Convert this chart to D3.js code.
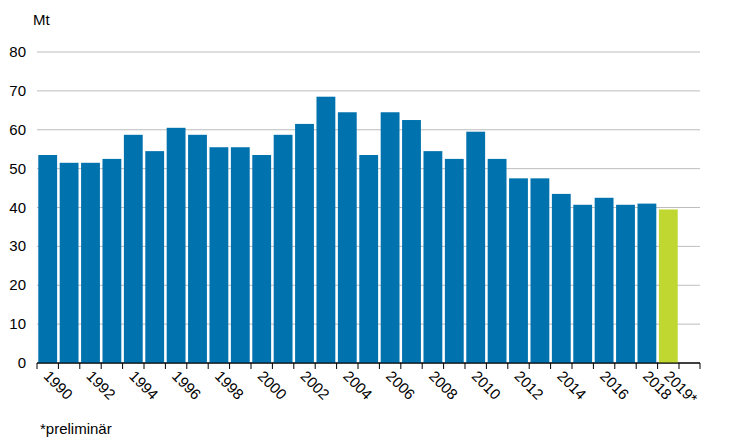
<!DOCTYPE html>
<html><head><meta charset="utf-8">
<script src="https://d3js.org/d3.v7.min.js"></script>
<style>body{margin:0;background:#fff}text{font-family:"Liberation Sans",Arial,sans-serif;fill:#000}</style>
</head><body><svg id="c" width="737" height="446"></svg>
<script>
const years=["1990","1991","1992","1993","1994","1995","1996","1997","1998","1999","2000","2001","2002","2003","2004","2005","2006","2007","2008","2009","2010","2011","2012","2013","2014","2015","2016","2017","2018","2019*"];
const values=[53.5,51.5,51.5,52.5,58.7,54.5,60.5,58.7,55.5,55.5,53.5,58.7,61.5,68.5,64.5,53.5,64.5,62.5,54.5,52.5,59.5,52.5,47.5,47.5,43.5,40.7,42.5,40.7,41,39.5];
const yTicks=[0,10,20,30,40,50,60,70,80];
const svg=d3.select("#c");
const L=37,R=700,T=52,B=363;
const x=d3.scaleBand().domain(years).range([L,L+30*21.4]).paddingInner(0.12).paddingOuter(0.06);
const y=d3.scaleLinear().domain([0,80]).range([B,T]);
svg.append("g").selectAll("line").data(yTicks).join("line")
 .attr("x1",L).attr("x2",R).attr("y1",d=>y(d)).attr("y2",d=>y(d))
 .attr("stroke",d=>d===0?"#000":"#bdbdbd").attr("stroke-width",1);
svg.append("g").selectAll("text").data(yTicks).join("text")
 .attr("x",L-11).attr("y",d=>y(d)+5).attr("text-anchor","end").attr("font-size",15).text(d=>d);
svg.append("text").attr("x",33).attr("y",25).attr("font-size",15).text("Mt");
svg.append("g").selectAll("rect").data(values).join("rect")
 .attr("x",(d,i)=>x(years[i])).attr("width",x.bandwidth())
 .attr("y",d=>y(d)).attr("height",d=>B-y(d))
 .attr("fill",(d,i)=>i===29?"#bfd730":"#0072ae");
const step=x.step();
const ticks=d3.range(31).map(i=>L+i*step);
ticks.push(R);
svg.append("g").selectAll("line").data(ticks).join("line")
 .attr("x1",d=>d).attr("x2",d=>d).attr("y1",B).attr("y2",B+6).attr("stroke","#000");
svg.append("line").attr("x1",L).attr("x2",R).attr("y1",B).attr("y2",B).attr("stroke","#000");
svg.append("g").selectAll("text").data(years.filter((d,i)=>i%2===0||i===29)).join("text")
 .attr("transform",d=>`translate(${x(d)+x.bandwidth()/2-5},${B+14}) rotate(45)`)
 .attr("font-size",15).text(d=>d);
svg.append("text").attr("x",40).attr("y",434).attr("font-size",15).text("*preliminär");
</script></body></html>
